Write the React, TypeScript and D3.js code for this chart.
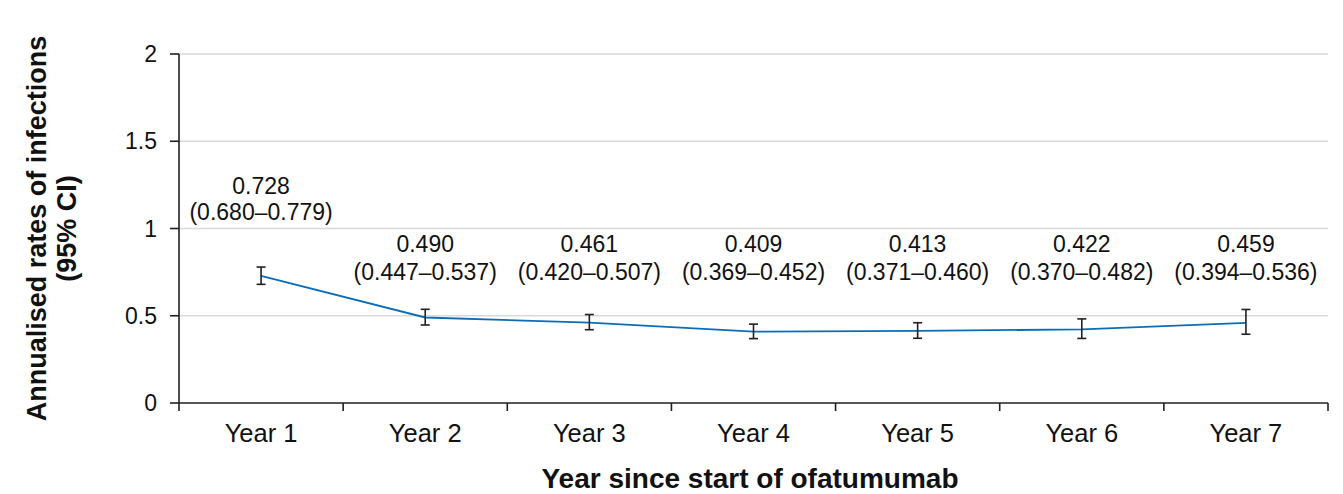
import React from "react";
import * as d3 from "d3";

const categories = ["Year 1", "Year 2", "Year 3", "Year 4", "Year 5", "Year 6", "Year 7"];
const rates = [0.728, 0.49, 0.461, 0.409, 0.413, 0.422, 0.459];
const lowerCI = [0.68, 0.447, 0.42, 0.369, 0.371, 0.37, 0.394];
const upperCI = [0.779, 0.537, 0.507, 0.452, 0.46, 0.482, 0.536];
const rateLabels = ["0.728", "0.490", "0.461", "0.409", "0.413", "0.422", "0.459"];
const ciLabels = [
  "(0.680–0.779)",
  "(0.447–0.537)",
  "(0.420–0.507)",
  "(0.369–0.452)",
  "(0.371–0.460)",
  "(0.370–0.482)",
  "(0.394–0.536)",
];
const yTicks = [0, 0.5, 1, 1.5, 2];

const W = 1343;
const H = 494;
const margin = { left: 179, right: 1328, top: 54, bottom: 403 };
const FONT = "'Liberation Sans', Arial, Helvetica, sans-serif";
const AXIS = "#231f20";
const BLUE = "#0b6db7";

export default function App() {
  const x = d3.scaleBand<string>().domain(categories).range([margin.left, margin.right]).padding(0);
  const y = d3.scaleLinear().domain([0, 2]).range([margin.bottom, margin.top]);
  const cx = (i: number) => (x(categories[i]) as number) + x.bandwidth() / 2;

  const line = d3
    .line<number>()
    .x((_, i) => cx(i))
    .y((d) => y(d));

  const xTickPositions = categories.map((c) => x(c) as number).concat([margin.right]);
  const cap = 4.5;

  return (
    <svg
      width={W}
      height={H}
      style={{ position: "absolute", left: 0, top: 0, background: "#fff" }}
      fontFamily={FONT}
    >
      {/* gridlines */}
      {yTicks
        .filter((t) => t > 0)
        .map((t) => (
          <line key={"g" + t} x1={margin.left} x2={margin.right} y1={y(t)} y2={y(t)} stroke="#d9d9d9" strokeWidth={1.6} />
        ))}
      {/* y axis */}
      <line x1={margin.left} x2={margin.left} y1={margin.top} y2={margin.bottom} stroke={AXIS} strokeWidth={1.6} />
      {yTicks.map((t) => (
        <g key={"yt" + t}>
          <line x1={margin.left - 9} x2={margin.left} y1={y(t)} y2={y(t)} stroke={AXIS} strokeWidth={1.6} />
          <text x={157} y={y(t)} dy="0.35em" textAnchor="end" fontSize={23} fill="#111">
            {t}
          </text>
        </g>
      ))}
      {/* x axis */}
      <line x1={margin.left} x2={margin.right} y1={margin.bottom} y2={margin.bottom} stroke={AXIS} strokeWidth={1.6} />
      {xTickPositions.map((p, i) => (
        <line key={"xt" + i} x1={p} x2={p} y1={margin.bottom} y2={margin.bottom + 8} stroke={AXIS} strokeWidth={1.6} />
      ))}
      {categories.map((c, i) => (
        <text key={"xl" + c} x={cx(i)} y={442} textAnchor="middle" fontSize={25.5} fill="#111">
          {c}
        </text>
      ))}
      {/* line */}
      <path d={line(rates) as string} fill="none" stroke={BLUE} strokeWidth={1.8} />
      {/* error bars */}
      {rates.map((_, i) => (
        <g key={"e" + i} stroke={AXIS} strokeWidth={1.6}>
          <line x1={cx(i)} x2={cx(i)} y1={y(lowerCI[i])} y2={y(upperCI[i])} />
          <line x1={cx(i) - cap} x2={cx(i) + cap} y1={y(lowerCI[i])} y2={y(lowerCI[i])} />
          <line x1={cx(i) - cap} x2={cx(i) + cap} y1={y(upperCI[i])} y2={y(upperCI[i])} />
        </g>
      ))}
      {/* value labels */}
      {rates.map((_, i) => {
        const base = i === 0 ? 220 : 280;
        const gap = i === 0 ? 26 : 28;
        return (
          <g key={"lb" + i} fontSize={23} fill="#111" textAnchor="middle">
            <text x={cx(i)} y={base - gap}>{rateLabels[i]}</text>
            <text x={cx(i)} y={base}>{ciLabels[i]}</text>
          </g>
        );
      })}
      {/* axis titles */}
      <text x={750} y={488} textAnchor="middle" fontSize={28} fontWeight="bold" fill="#111">
        Year since start of ofatumumab
      </text>
      <g transform={`translate(0, ${(margin.top + margin.bottom) / 2}) rotate(-90)`}>
        <text x={0} y={46} textAnchor="middle" fontSize={27} fontWeight="bold" fill="#111">
          Annualised rates of infections
        </text>
        <text x={0} y={76} textAnchor="middle" fontSize={27} fontWeight="bold" fill="#111">
          (95% CI)
        </text>
      </g>
    </svg>
  );
}
